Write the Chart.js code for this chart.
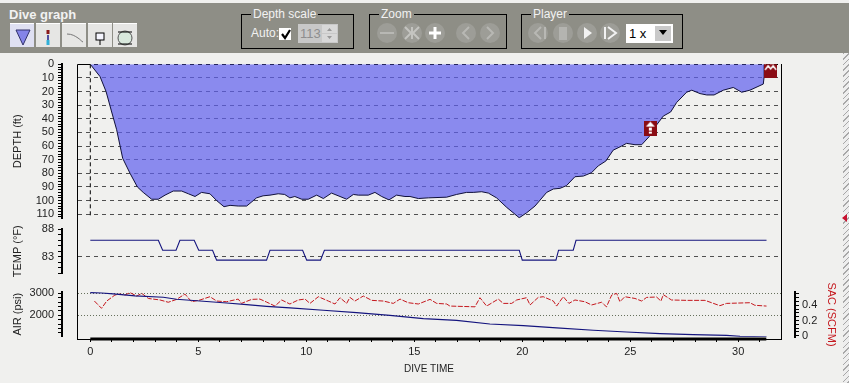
<!DOCTYPE html>
<html lang="en">
<head>
<meta charset="UTF-8">
<title>Dive graph</title>
<script src="https://cdn.jsdelivr.net/npm/chart.js@4"></script>
<style>
    html, body { margin: 0; width: 849px; height: 383px; overflow: hidden; background: #f0f0ee; font-family: "Liberation Sans", Arial, sans-serif; }
    #graph { position: absolute; left: 0; top: 0; }
    #toolbar { position: absolute; left: 0; top: 3px; width: 849px; height: 50px; background: #8e8e86; color: #f2f2f2; font-size: 12px; }
    #toolbar .title { position: absolute; left: 9px; top: 4px; font-weight: bold; font-size: 13px; }
    .group { position: absolute; top: 11px; height: 33px; border: 1px solid #000; }
    .group span.legend { position: absolute; left: 9px; top: -8px; background: #8e8e86; padding: 0 2px; line-height: 14px; }
    .abs { position: absolute; }
    .btn { position: absolute; top: 20px; width: 24px; height: 24px; background: #e6e6e4; border-top: 1px solid #fff; box-sizing: border-box; }
    #icons { position: absolute; left: 0; top: 0; }
    #hatch { position: absolute; left: 843px; top: 53px; width: 6px; height: 330px; background: repeating-linear-gradient(135deg, #a8a8a8 0 1px, #eeeeee 1px 4px); }
    #mark { position: absolute; left: 842px; top: 214px; width: 0; height: 0; border-top: 4px solid transparent; border-bottom: 4px solid transparent; border-right: 5px solid #c8102e; }
</style>
</head>
<body>
<canvas id="graph" width="849" height="383"></canvas>
<div id="hatch"></div>
<div id="mark"></div>
<div id="toolbar">
    <div class="title">Dive graph</div>
    <div class="btn" style="left:10px;background:#dfe0f2"></div>
    <div class="btn" style="left:36px"></div>
    <div class="btn" style="left:62px"></div>
    <div class="btn" style="left:88px"></div>
    <div class="btn" style="left:113px"></div>
    <div class="group" style="left:241px;width:111px"><span class="legend">Depth scale</span></div>
    <div class="group" style="left:369px;width:136px"><span class="legend">Zoom</span></div>
    <div class="group" style="left:521px;width:160px"><span class="legend">Player</span></div>
    <div class="abs" style="left:251px;top:23px">Auto:</div>
    <div class="abs" style="left:279px;top:25px;width:12px;height:12px;background:#fff"></div>
    <div class="abs" style="left:298px;top:21px;width:40px;height:19px;background:#c8c8c8;color:#8e8e8e;font-size:13px;line-height:19px;text-indent:2px">113</div>
    <div class="abs" style="left:626px;top:21px;width:47px;height:19px;background:#fff;color:#000;line-height:19px;text-indent:3px;font-size:13px">1 x</div>
    <div class="abs" style="left:655px;top:23px;width:16px;height:15px;background:#c9c9c9"></div>
    <svg id="icons" width="849" height="50" viewBox="0 3 849 50">
        <!-- toolbar buttons -->
        <path d="M16 30 L30 30 L23 45 Z" fill="#8484e8" stroke="#30306a"/>
        <path d="M48 30 V34" stroke="#8b1a1a" stroke-width="3"/><path d="M48 35 V40" stroke="#5050a0" stroke-width="2"/><path d="M48 40 V45" stroke="#30b0d8" stroke-width="3"/>
        <path d="M67 34 C72 34 75 36 78 38 S81 41 83 42" fill="none" stroke="#777"/>
        <rect x="96" y="33" width="8" height="7" fill="#f6f6ff" stroke="#000"/><path d="M100 40 V45" stroke="#000"/>
        <ellipse cx="125" cy="38" rx="7" ry="7" fill="#d8e8dc" stroke="#555"/><path d="M118 32 H132 M118 44 H132" stroke="#000"/>
        <!-- check mark -->
        <path d="M282 34 L285 38 L290 30" fill="none" stroke="#000" stroke-width="2.2"/>
        <!-- spinner -->
        <rect x="322" y="25" width="15" height="8" fill="#d8d8d8"/><rect x="322" y="34" width="15" height="8" fill="#d8d8d8"/>
        <path d="M327 31 L329.500 28 L332 31 Z M327 36 L329.500 39 L332 36 Z" fill="#999"/>
        <!-- select arrow -->
        <path d="M659 30 H667 L663 35 Z" fill="#000"/>
        <!-- zoom buttons -->
        <g fill="#9d9d97">
            <circle cx="387" cy="33" r="10"/><circle cx="412" cy="33" r="10"/><circle cx="435" cy="33" r="10"/><circle cx="466" cy="33" r="10"/><circle cx="490" cy="33" r="10"/>
            <circle cx="538" cy="33" r="10"/><circle cx="563" cy="33" r="10"/><circle cx="587" cy="33" r="10"/><circle cx="610" cy="33" r="10"/>
        </g>
        <g fill="none" stroke="#b8b8b4" stroke-width="2">
            <path d="M380 33 H394"/>
            <path d="M405 27 L411 33 L405 39 M419 27 L413 33 L419 39 M412 27 V39" stroke="#c4c4c0"/>
            <path d="M469 27 L463 33 L469 39"/><path d="M487 27 L493 33 L487 39"/>
            <path d="M541 27 L535 33 L541 39 M545 27 V39"/>
        </g>
        <path d="M429 33 H441 M435 27 V39" stroke="#fff" stroke-width="3"/>
        <rect x="559" y="27" width="8" height="13" fill="#b4b4b0"/>
        <path d="M584 27 L592 33 L584 39 Z" fill="#f2f2f2"/>
        <path d="M605 27 V39 M608 27 L616 33 L608 39" fill="none" stroke="#f2f2f2" stroke-width="2"/>
    </svg>
</div>

<script>
    // values
    const depthTime = [0, 0.45, 0.73, 0.99, 1.22, 1.5, 1.84, 2.18, 2.45, 2.84, 3.15, 3.46, 3.84, 4.23, 4.54, 4.85, 5.15, 5.54, 5.85, 6.19, 6.47, 6.85, 7.24, 7.7, 8, 8.32, 8.7, 9, 9.24, 9.47, 9.79, 10.09, 10.48, 10.79, 11.17, 11.56, 11.87, 12.18, 12.41, 12.87, 13.18, 13.49, 13.83, 14.18, 14.57, 14.8, 15.19, 15.65, 16.5, 16.96, 17.42, 17.73, 18.12, 18.43, 18.81, 19.28, 19.86, 20.2, 20.59, 21.13, 21.44, 21.75, 22.05, 22.44, 22.83, 23.21, 23.52, 23.87, 24.21, 24.6, 24.83, 25.22, 25.53, 25.88, 26.22, 26.53, 26.87, 27.15, 27.61, 27.85, 28.23, 28.54, 28.88, 29.31, 29.77, 30.16, 30.54, 31.16, 31.2, 31.2];
    const depthFeet = [0, 9, 20, 35, 48, 69, 80, 90, 94, 99, 99, 96, 93, 93, 95, 97, 94, 95, 100, 104.5, 103.5, 104, 104, 98, 96.5, 96, 95, 95.5, 98, 97, 99, 99, 96, 98.5, 94.5, 97, 99, 95.5, 96, 96, 94, 97, 99.5, 96, 97, 97, 98.5, 98, 97.5, 95.5, 94, 94, 93.5, 94.5, 98, 105, 112.6, 109, 104, 94, 91.5, 91, 89, 82.5, 82, 79.5, 74.5, 71, 63, 60, 58, 59, 59, 53, 44.5, 38, 35, 28, 20.5, 19, 21.5, 22.5, 22.5, 19, 17, 20.5, 19, 14.5, 9, 0];

    const tempTime = [0, 3.15, 3.35, 3.97, 4.15, 4.81, 5.02, 5.66, 5.85, 8.16, 8.32, 9.83, 10.02, 10.66, 10.84, 19.86, 20, 21.56, 21.68, 22.36, 22.49, 31.31];
    const tempF = [86, 86, 84.2, 84.2, 86, 86, 84.2, 84.2, 82.4, 82.4, 84.2, 84.2, 82.4, 82.4, 84.2, 84.2, 82.4, 82.4, 84.2, 84.2, 86, 86];

    const airTime = [0, 0.52, 1.06, 2.07, 3.38, 3.99, 5.08, 6.31, 7.24, 8.16, 9.25, 10.79, 12.33, 13.87, 15.42, 16.96, 18.5, 20.05, 21.59, 23.29, 24.83, 26.38, 27.92, 29.46, 30.08, 31.31];
    const airPsi = [3030, 3015, 2970, 2880, 2820, 2730, 2650, 2560, 2485, 2410, 2340, 2230, 2120, 2000, 1850, 1770, 1605, 1530, 1425, 1320, 1240, 1165, 1120, 1090, 1045, 1015];

    const sacTime = [0.19, 0.52, 0.76, 1.14, 1.37, 1.6, 1.84, 2.15, 2.38, 2.69, 3.23, 3.61, 4, 4.38, 4.69, 5.08, 5.54, 5.85, 6.31, 6.85, 7, 7.47, 7.85, 8.16, 8.55, 8.86, 9.24, 9.63, 9.94, 10.17, 10.56, 11.02, 11.33, 11.56, 11.87, 12.02, 12.25, 12.64, 13.03, 13.57, 14.03, 14.34, 14.72, 15.19, 15.73, 16.04, 16.5, 16.65, 17.81, 18.04, 18.35, 18.89, 19.12, 19.51, 19.74, 20.2, 20.36, 20.74, 20.97, 21.44, 21.59, 21.9, 22.16, 22.44, 22.9, 23.21, 23.67, 23.9, 24.14, 24.37, 24.52, 24.75, 25.22, 25.53, 25.76, 26.22, 26.42, 26.53, 26.91, 27.61, 28.46, 29.15, 29.46, 30.54, 30.77, 31.31];
    const sacScfm = [0.456, 0.36, 0.456, 0.535, 0.548, 0.535, 0.566, 0.522, 0.557, 0.49, 0.47, 0.44, 0.478, 0.548, 0.447, 0.47, 0.513, 0.456, 0.447, 0.482, 0.425, 0.478, 0.482, 0.443, 0.39, 0.47, 0.417, 0.47, 0.482, 0.425, 0.513, 0.456, 0.417, 0.5, 0.425, 0.504, 0.456, 0.522, 0.465, 0.456, 0.425, 0.482, 0.434, 0.417, 0.478, 0.425, 0.417, 0.39, 0.38, 0.5, 0.39, 0.482, 0.425, 0.425, 0.47, 0.5, 0.404, 0.504, 0.513, 0.456, 0.39, 0.513, 0.425, 0.47, 0.447, 0.404, 0.44, 0.38, 0.535, 0.557, 0.447, 0.513, 0.49, 0.456, 0.504, 0.509, 0.456, 0.54, 0.47, 0.465, 0.465, 0.395, 0.425, 0.434, 0.4, 0.39];

    const eventTime = [25.93, 31.5];
    const eventDepth = [46.8, 4.4];

    const depthTicks = [0, 10, 20, 30, 40, 50, 60, 70, 80, 90, 100, 110];
    const tempTicks = [88, 83];
    const airTicks = [3000, 2000];
    const sacTicks = [0, 0.2, 0.4];

    const zip = (xs, ys) => xs.map((x, i) => ({ x, y: ys[i] }));
    const font = size => ({ family: '"Liberation Sans", Arial, sans-serif', size });

    // little red event flags
    function eventIcon(kind) {
        const c = document.createElement('canvas');
        c.width = 13; c.height = 15;
        const g = c.getContext('2d');
        g.fillStyle = '#8a0c14';
        g.fillRect(0, 0, 13, 15);
        g.fillStyle = g.strokeStyle = '#fff';
        if (kind === 'ascent') {
            g.beginPath(); g.moveTo(6.5, 1); g.lineTo(11, 6); g.lineTo(2, 6); g.fill();
            g.fillRect(5, 7, 3, 3); g.fillRect(5, 11, 3, 2);
        } else {
            g.lineWidth = 1.5;
            g.beginPath(); g.moveTo(1, 7); g.lineTo(4, 3); g.lineTo(6.5, 6); g.lineTo(9, 3); g.lineTo(12, 7); g.stroke();
        }
        return c;
    }

    // one chart area, the y axes are stacked by hand into their bands
    const bands = {
        yDepth: { top: 64.3, bottom: 218.3, left: 11, right: 62 },
        yTemp: { top: 229.3, bottom: 273.3, left: 11, right: 62 },
        yAir: { top: 291.7, bottom: 336.7, left: 11, right: 62 },
        ySac: { top: 292, bottom: 337, left: 795, right: 838 }
    };

    const placeAxes = {
        id: 'placeAxes',
        afterLayout(chart) {
            Object.keys(bands).forEach(id => {
                const s = chart.scales[id];
                Object.assign(s, bands[id]);
                s.width = s.right - s.left;
                s.height = s.bottom - s.top;
                s.configure();
            });
            const x = chart.scales.x;
            x.bottom = 375;
            x.height = x.bottom - x.top;
        }
    };

    const frame = {
        id: 'frame',
        afterDraw(chart) {
            const { ctx, chartArea: a, scales: { x } } = chart;
            ctx.save();
            ctx.strokeStyle = '#000';
            ctx.lineWidth = 1;
            ctx.beginPath();
            ctx.moveTo(a.left + 0.5, a.bottom);
            ctx.lineTo(a.left + 0.5, a.top + 0.5);
            ctx.lineTo(x.getPixelForValue(0), a.top + 0.5);
            ctx.moveTo(a.right + 0.5, a.top);
            ctx.lineTo(a.right + 0.5, a.bottom);
            ctx.stroke();
            ctx.lineWidth = 3;
            ctx.beginPath();
            ctx.moveTo(x.getPixelForValue(0), a.bottom);
            ctx.lineTo(x.getPixelForValue(31.3), a.bottom);
            ctx.stroke();
            ctx.restore();
        }
    };

    function bandAxis(opts) {
        const step = opts.minorStep;
        return {
            type: 'linear',
            position: opts.position || 'left',
            reverse: !!opts.reverse,
            min: opts.min,
            max: opts.max,
            afterFit: s => { s.width = 0; },
            afterBuildTicks: s => {
                const ticks = [];
                const n = Math.round((s.max - s.min) / step);
                for (let i = 0; i <= n; i++) {
                    ticks.push({ value: opts.start + i * step });
                }
                s.ticks = ticks.filter(t => t.value >= s.min - 1e-6 && t.value <= s.max + 1e-6);
            },
            title: { display: true, text: opts.title, color: opts.titleColor || '#222', font: font(11), padding: 0 },
            border: { color: '#000', width: 2, dash: opts.dash || [4, 4] },
            grid: {
                tickLength: 4,
                tickColor: '#000',
                lineWidth: 1,
                color: ctx => {
                    const t = ctx.tick;
                    if (!t || !opts.lines.some(v => Math.abs(v - t.value) < 1e-6)) return 'rgba(0,0,0,0)';
                    return t.value === 0 && opts.reverse ? '#000' : opts.lineColor || '#505050';
                }
            },
            ticks: {
                autoSkip: false,
                color: '#222',
                font: font(11),
                padding: opts.position === 'right' ? 3 : 4,
                callback: v => {
                    const hit = opts.labels.find(l => Math.abs(l - v) < 1e-6);
                    return hit === undefined ? '' : String(hit);
                }
            }
        };
    }

    new Chart(document.getElementById('graph'), {
        type: 'line',
        data: {
            datasets: [
                { label: 'Depth', data: zip(depthTime, depthFeet), yAxisID: 'yDepth', borderColor: '#10103a', borderWidth: 1, backgroundColor: 'rgba(94, 94, 238, 0.7)', fill: { value: 0 }, pointRadius: 0, order: 5 },
                { label: 'Start', data: zip([0, 0], [0, 113]), yAxisID: 'yDepth', borderColor: '#000', borderWidth: 1, borderDash: [4, 3], pointRadius: 0, order: 4 },
                { label: 'Temp', data: zip(tempTime, tempF), yAxisID: 'yTemp', borderColor: '#14147e', borderWidth: 1.1, pointRadius: 0, order: 3 },
                { label: 'SAC', data: zip(sacTime, sacScfm), yAxisID: 'ySac', borderColor: '#c4161c', borderWidth: 1, borderDash: [5, 1.5], pointRadius: 0, order: 2 },
                { label: 'Air', data: zip(airTime, airPsi), yAxisID: 'yAir', borderColor: '#14147e', borderWidth: 1.2, pointRadius: 0, order: 1 },
                { label: 'Events', data: zip(eventTime, eventDepth), yAxisID: 'yDepth', showLine: false, pointRadius: 7, pointStyle: [eventIcon('ascent'), eventIcon('deco')], order: 0 }
            ]
        },
        options: {
            responsive: false,
            animation: false,
            layout: { padding: { left: 77, right: 68, top: 64, bottom: 44 } },
            plugins: { legend: { display: false }, tooltip: { enabled: false } },
            scales: {
                x: {
                    type: 'linear',
                    min: -0.616,
                    max: 31.98,
                    afterFit: s => { s.height = 0; },
                    afterBuildTicks: s => {
                        const ticks = [];
                        for (let i = 0; i <= 31; i++) ticks.push({ value: i });
                        s.ticks = ticks;
                    },
                    title: { display: true, text: 'DIVE TIME', color: '#222', font: font(10), padding: 0 },
                    border: { color: '#000', width: 1 },
                    grid: { drawOnChartArea: false, tickLength: 3, tickColor: '#000' },
                    ticks: {
                        autoSkip: false,
                        maxRotation: 0,
                        color: '#222',
                        font: font(11),
                        padding: 3,
                        callback: v => (v % 5 === 0 ? String(v) : '')
                    }
                },
                yDepth: bandAxis({ title: 'DEPTH (ft)', reverse: true, min: 0, max: 113, start: 0, minorStep: 2, labels: depthTicks, lines: depthTicks }),
                yTemp: bandAxis({ title: 'TEMP (°F)', min: 80, max: 88, start: 80, minorStep: 1, labels: tempTicks, lines: [83] }),
                yAir: bandAxis({ title: 'AIR (psi)', min: 1027, max: 3073, start: 1200, minorStep: 200, labels: airTicks, lines: airTicks, dash: [1, 2], lineColor: '#66705c' }),
                ySac: bandAxis({ title: 'SAC (SCFM)', titleColor: '#c4161c', position: 'right', min: -0.017, max: 0.575, start: 0, minorStep: 0.05, labels: sacTicks, lines: [] })
            }
        },
        plugins: [placeAxes, frame]
    });
</script>
</body>
</html>
